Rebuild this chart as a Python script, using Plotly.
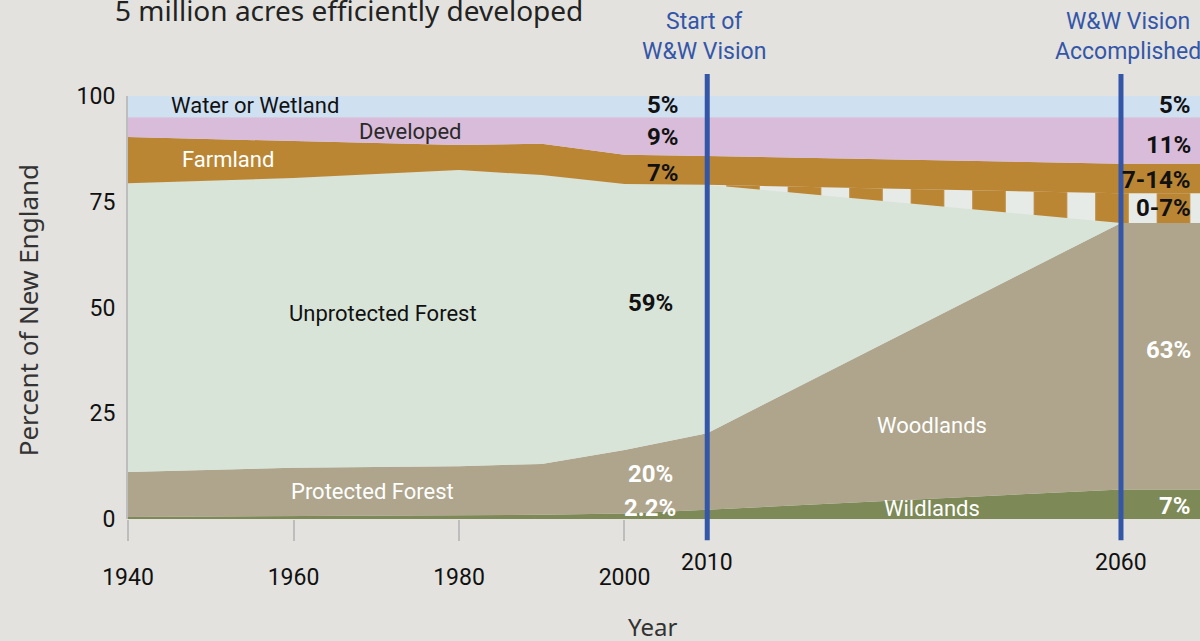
import plotly.graph_objects as go

# Land use in New England, percent of area (each layer's own share)
years = [1940, 1960, 1980, 1990, 2000, 2010, 2060, 2070]
wildlands = [0.5, 0.7, 0.9, 1.0, 1.3, 2.2, 7.0, 7.0]
woodlands = [10.6, 11.4, 11.6, 12.0, 15.0, 18.1, 63.0, 63.0]
unprotected = [68.3, 68.5, 70.0, 68.3, 62.9, 58.7, 0.0, 0.0]
uncertain = [0.0, 0.0, 0.0, 0.0, 0.0, 0.0, 7.0, 7.0]
farmland = [10.9, 8.8, 5.9, 7.4, 6.9, 6.8, 7.0, 7.0]
developed = [4.7, 5.6, 6.6, 6.3, 8.9, 9.2, 11.0, 11.0]
water = [5.0, 5.0, 5.0, 5.0, 5.0, 5.0, 5.0, 5.0]

x_ticks = [1940, 1960, 1980, 2000]
y_ticks = [0, 25, 50, 75, 100]
vision_years = [2010, 2060]

BG = "#e3e2de"
BLUE = "#3456a8"
NARROW = "Roboto, sans-serif"
REGULAR = "Noto Sans, Open Sans, sans-serif"
X_END = 2069.55

layers = [
    ("Wildlands", wildlands, "#7d8956"),
    ("Woodlands", woodlands, "#aea58c"),
    ("Unprotected Forest", unprotected, "#d9e4d9"),
    ("Uncertain", uncertain, "#bb8634"),
    ("Farmland", farmland, "#bb8634"),
    ("Developed", developed, "#d8bcd9"),
    ("Water or Wetland", water, "#cfe0f1"),
]

fig = go.Figure()
for name, vals, color in layers:
    kw = {}
    if name == "Uncertain":
        # striped 0-7% band (farmland or forest)
        kw["fillpattern"] = dict(shape="|", bgcolor="#bb8634", fgcolor="#e6ebe8",
                                 fgopacity=1, size=61.5, solidity=0.455)
    fig.add_trace(
        go.Scatter(
            x=years, y=vals, name=name, stackgroup="one", mode="lines",
            line=dict(width=0), fillcolor=color, hoverinfo="skip", **kw,
        )
    )

# vertical vision markers
for yr in vision_years:
    fig.add_shape(type="line", xref="x", yref="paper", x0=yr, x1=yr,
                  y0=-0.05, y1=1.052, line=dict(color=BLUE, width=5))
    fig.add_annotation(x=yr, y=-0.102, xref="x", yref="paper", text=str(yr),
                       showarrow=False, xanchor="center", yanchor="middle",
                       font=dict(family=NARROW, size=23, color="#111"))


def label(x, y, text, color="#111", bold=False, xanchor="center", size=22):
    fig.add_annotation(
        x=x, y=y, text=f"<b>{text}</b>" if bold else text, showarrow=False,
        xanchor=xanchor, yanchor="middle",
        font=dict(family=NARROW, size=size, color=color),
    )


label(1955.3, 97.8, "Water or Wetland")
label(1974.1, 91.7, "Developed", color="#2a2a2a")
label(1952.1, 85.1, "Farmland", color="white")
label(1970.8, 48.5, "Unprotected Forest")
label(1969.6, 6.4, "Protected Forest", color="white")
label(2037.2, 22.2, "Woodlands", color="white")
label(2037.2, 2.6, "Wildlands", color="white")

label(2004.6, 97.9, "5%", bold=True, size=24)
label(2004.6, 90.3, "9%", bold=True, size=24)
label(2004.6, 81.8, "7%", bold=True, size=24)
label(2003.1, 51.1, "59%", bold=True, size=24)
label(2003.1, 10.6, "20%", color="white", bold=True, size=24)
label(2003.1, 2.6, "2.2%", color="white", bold=True, size=24)

label(X_END - 0.8, 97.9, "5%", bold=True, xanchor="right", size=24)
label(X_END - 0.8, 88.4, "11%", bold=True, xanchor="right", size=24)
label(X_END - 0.8, 80.1, "7-14%", bold=True, xanchor="right", size=24)
label(X_END - 0.8, 73.5, "0-7%", bold=True, xanchor="right", size=24)
label(X_END - 0.8, 40.0, "63%", color="white", bold=True, xanchor="right", size=24)
label(X_END - 0.8, 3.1, "7%", color="white", bold=True, xanchor="right", size=24)

fig.add_annotation(x=2009.6, y=1.14, xref="x", yref="paper", showarrow=False,
                   text="Start of<br>W&W Vision", align="center",
                   xanchor="center", yanchor="middle",
                   font=dict(family=NARROW, size=23, color=BLUE))
fig.add_annotation(x=2060.9, y=1.14, xref="x", yref="paper", showarrow=False,
                   text="W&W Vision<br>Accomplished", align="center",
                   xanchor="center", yanchor="middle",
                   font=dict(family=NARROW, size=23, color=BLUE))

fig.add_annotation(x=0.206, y=1.203, xref="paper", yref="paper", showarrow=False,
                   text="5 million acres efficiently developed",
                   xanchor="center", yanchor="middle",
                   font=dict(family=REGULAR, size=28, color="#222"))
fig.add_annotation(x=0.489, y=-0.255, xref="paper", yref="paper", showarrow=False,
                   text="Year", xanchor="center", yanchor="middle",
                   font=dict(family=REGULAR, size=24, color="#333"))
fig.add_annotation(x=-0.093, y=0.494, xref="paper", yref="paper", showarrow=False,
                   text="Percent of New England", textangle=-90,
                   xanchor="center", yanchor="middle",
                   font=dict(family=REGULAR, size=26, color="#333"))

fig.update_layout(
    width=1200, height=641,
    margin=dict(l=128, r=0, t=96, b=122),
    paper_bgcolor=BG, plot_bgcolor=BG,
    showlegend=False,
    xaxis=dict(
        range=[1940, X_END], tickvals=x_ticks, ticks="outside", ticklen=21,
        tickwidth=2, tickcolor="#bdbdbd", showgrid=False, zeroline=False,
        showline=False, ticklabelstandoff=16,
        tickfont=dict(family=NARROW, size=23, color="#111"),
    ),
    xaxis2=dict(
        range=[1940, X_END], overlaying="x", side="top", anchor="y",
        tickvals=x_ticks, ticks="outside", ticklen=21, tickwidth=2,
        tickcolor="#bdbdbd", showticklabels=False, showgrid=False,
        zeroline=False, showline=False,
    ),
    yaxis=dict(
        range=[0, 100], tickvals=y_ticks, showgrid=False, zeroline=False,
        showline=True, linecolor="#bdbdbd", linewidth=2, ticks="",
        ticklabelstandoff=6,
        tickfont=dict(family=NARROW, size=23, color="#111"),
    ),
)

# drop the default page margin so the figure sits at the window's corner
fig.write_html(
    "out.html",
    config={"displayModeBar": False},
    post_script="document.body.style.margin='0';document.body.style.background='#e3e2de';",
)
